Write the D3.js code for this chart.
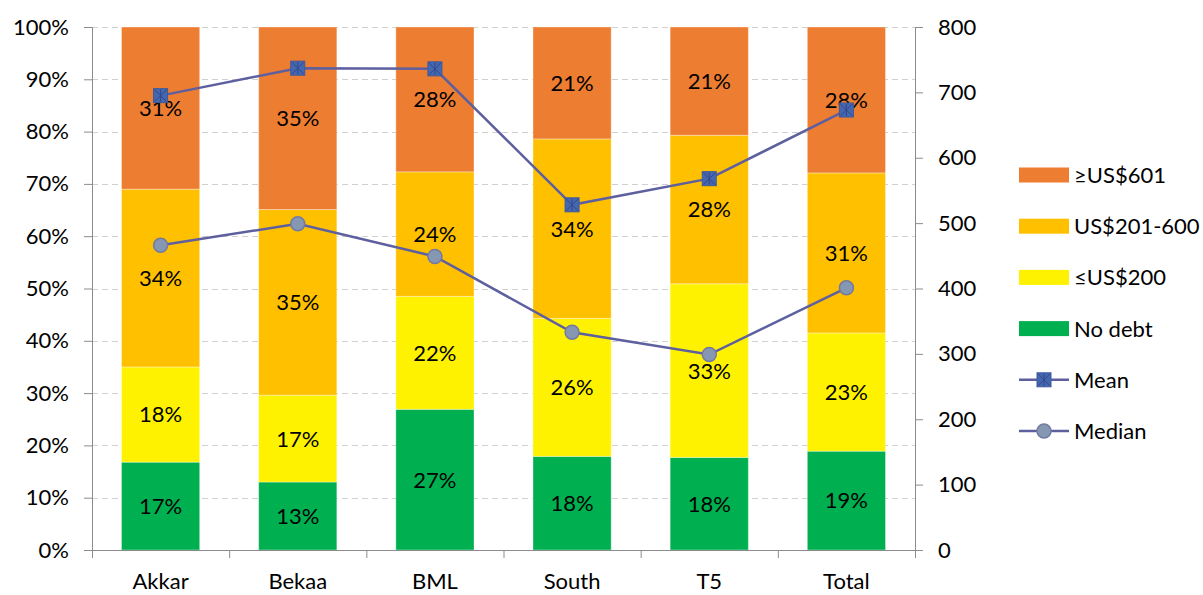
<!DOCTYPE html>
<html>
<head>
<meta charset="utf-8">
<script src="https://cdn.jsdelivr.net/npm/d3@7"></script>
<style>
  body { margin: 0; background: #fff; }
  text { font-family: Lato, "Open Sans", sans-serif; fill: #000; }
</style>
</head>
<body>
<script>
var w = 1203;
var h = 595;

// data
var regions = ['Akkar', 'Bekaa', 'BML', 'South', 'T5', 'Total'];
var seriesNames = ['No debt', '≤US$200', 'US$201-600', '≥US$601'];
var noDebt   = [16.8, 13.0, 26.9, 17.9, 17.7, 18.9];
var upTo200  = [18.2, 16.6, 21.6, 26.4, 33.2, 22.6];
var mid      = [34.0, 35.5, 23.8, 34.3, 28.4, 30.6];
var over601  = [31.0, 34.9, 27.7, 21.4, 20.7, 27.9];
var meanVals   = [695, 737, 736, 528, 568, 673];
var medianVals = [466, 499, 449, 333, 299, 401];
var pctTicks = [0, 10, 20, 30, 40, 50, 60, 70, 80, 90, 100];
var usdTicks = [0, 100, 200, 300, 400, 500, 600, 700, 800];

var colors = ['#00B050', '#FFF200', '#FFC000', '#ED7D31'];
var lineColor = '#5E5F9F';

var margin = {left: 92, right: 288, top: 27, bottom: 45};
var pw = w - margin.left - margin.right;
var ph = h - margin.top - margin.bottom;

var svg = d3.select('body')
            .append('svg')
            .attr('width', w)
            .attr('height', h);

var g = svg.append('g')
           .attr('transform', 'translate(' + margin.left + ',' + margin.top + ')');

var x = d3.scaleBand()
          .domain(regions)
          .range([0, pw])
          .paddingInner(0.43)
          .paddingOuter(0.215);

var band = d3.scaleBand().domain(regions).range([0, pw]);

var y = d3.scaleLinear().domain([0, 100]).range([ph, 0]);
var y2 = d3.scaleLinear().domain([0, 800]).range([ph, 0]);

// gridlines
g.append('g')
 .selectAll('line')
 .data(pctTicks.slice(1))
 .enter()
 .append('line')
 .attr('x1', 0)
 .attr('x2', pw)
 .attr('y1', function(d) { return Math.round(y(d)) + 0.5; })
 .attr('y2', function(d) { return Math.round(y(d)) + 0.5; })
 .attr('stroke', '#d0d0d0')
 .attr('stroke-width', 1)
 .attr('stroke-dasharray', '6,4');

// stacked bars
var table = regions.map(function(r, i) {
    return {region: r, 0: noDebt[i], 1: upTo200[i], 2: mid[i], 3: over601[i]};
});
var stack = d3.stack().keys([0, 1, 2, 3]);
var layers = stack(table);

var layerG = g.selectAll('.layer')
              .data(layers)
              .enter()
              .append('g')
              .attr('class', 'layer')
              .attr('fill', function(d, i) { return colors[i]; });

layerG.selectAll('rect')
      .data(function(d) { return d; })
      .enter()
      .append('rect')
      .attr('x', function(d) { return x(d.data.region); })
      .attr('width', x.bandwidth())
      .attr('y', function(d) { return y(d[1]); })
      .attr('height', function(d) { return y(d[0]) - y(d[1]); })
      .attr('stroke', '#ffffff')
      .attr('stroke-opacity', 0.35)
      .attr('stroke-width', 1);

layerG.selectAll('text')
      .data(function(d) { return d; })
      .enter()
      .append('text')
      .attr('x', function(d) { return x(d.data.region) + x.bandwidth() / 2; })
      .attr('y', function(d) { return (y(d[0]) + y(d[1])) / 2; })
      .attr('dy', '0.36em')
      .attr('text-anchor', 'middle')
      .attr('font-size', '22px')
      .text(function(d) { return Math.round(d[1] - d[0]) + '%'; });

// axes
var leftAxis = d3.axisLeft(y)
                 .tickValues(pctTicks)
                 .tickFormat(function(d) { return d + '%'; })
                 .tickSize(8)
                 .tickPadding(15);
var rightAxis = d3.axisRight(y2)
                  .tickValues(usdTicks)
                  .tickSize(8)
                  .tickPadding(15);
var bottomAxis = d3.axisBottom(band)
                   .tickSize(0)
                   .tickPadding(23);

var la = g.append('g').call(leftAxis);
var ra = g.append('g').attr('transform', 'translate(' + pw + ',0)').call(rightAxis);
var ba = g.append('g').attr('transform', 'translate(0,' + ph + ')').call(bottomAxis);

[la, ra, ba].forEach(function(a) {
    a.select('.domain').attr('stroke', '#8c8c8c');
    a.selectAll('.tick line').attr('stroke', '#8c8c8c');
    a.selectAll('.tick text')
     .attr('font-size', '22px')
     .attr('font-family', 'Lato, "Open Sans", sans-serif');
});
ba.select('.domain').attr('d', 'M0.5,0.5H' + (pw + 0.5));

// category boundary ticks
g.append('g')
 .selectAll('line')
 .data(regions.concat(['end']))
 .enter()
 .append('line')
 .attr('x1', function(d, i) { return i * band.bandwidth() + 0.5; })
 .attr('x2', function(d, i) { return i * band.bandwidth() + 0.5; })
 .attr('y1', ph)
 .attr('y2', ph + 8)
 .attr('stroke', '#8c8c8c');

// lines
var cx = function(d, i) { return x(regions[i]) + x.bandwidth() / 2; };

var line = d3.line()
             .x(cx)
             .y(function(d) { return y2(d); });

g.append('path')
 .datum(meanVals)
 .attr('d', line)
 .attr('fill', 'none')
 .attr('stroke', lineColor)
 .attr('stroke-width', 2.5);

g.append('path')
 .datum(medianVals)
 .attr('d', line)
 .attr('fill', 'none')
 .attr('stroke', lineColor)
 .attr('stroke-width', 2.5);

function squareMarker(sel) {
    sel.append('rect')
       .attr('x', -7).attr('y', -7)
       .attr('width', 14).attr('height', 14)
       .attr('fill', '#4567B0')
       .attr('stroke', '#3D5A9E')
       .attr('stroke-width', 1);
    sel.append('path')
       .attr('d', 'M-6,-6L6,6M6,-6L-6,6M0,-6V6')
       .attr('stroke', '#34488A')
       .attr('stroke-width', 1);
}

function circleMarker(sel) {
    sel.append('circle')
       .attr('r', 7)
       .attr('fill', '#8597B2')
       .attr('stroke', '#737AA0')
       .attr('stroke-width', 1.5);
}

g.selectAll('.mean')
 .data(meanVals)
 .enter()
 .append('g')
 .attr('class', 'mean')
 .attr('transform', function(d, i) { return 'translate(' + cx(d, i) + ',' + y2(d) + ')'; })
 .call(squareMarker);

g.selectAll('.median')
 .data(medianVals)
 .enter()
 .append('g')
 .attr('class', 'median')
 .attr('transform', function(d, i) { return 'translate(' + cx(d, i) + ',' + y2(d) + ')'; })
 .call(circleMarker);

// legend
var legend = svg.append('g').attr('transform', 'translate(1019,175)');
var legendItems = seriesNames.slice().reverse().concat(['Mean', 'Median']);

var item = legend.selectAll('g')
                 .data(legendItems)
                 .enter()
                 .append('g')
                 .attr('transform', function(d, i) { return 'translate(0,' + (i * 51.2) + ')'; });

item.each(function(d, i) {
    var s = d3.select(this);
    if (i < 4) {
        s.append('rect')
         .attr('x', 0).attr('y', -7.5)
         .attr('width', 50).attr('height', 15)
         .attr('fill', colors[3 - i]);
    } else {
        s.append('line')
         .attr('x1', 0).attr('x2', 50)
         .attr('stroke', lineColor)
         .attr('stroke-width', 2.5);
        var m = s.append('g').attr('transform', 'translate(25,0)');
        if (d === 'Mean') squareMarker(m); else circleMarker(m);
    }
    s.append('text')
     .attr('x', 55)
     .attr('dy', '0.36em')
     .attr('font-size', '22px')
     .text(d);
});
</script>
</body>
</html>
